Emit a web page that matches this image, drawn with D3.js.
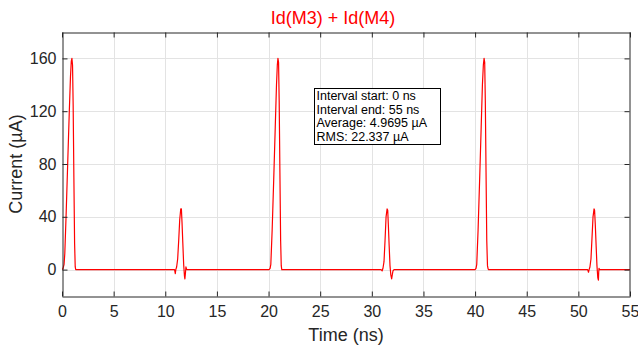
<!DOCTYPE html>
<html>
<head>
<meta charset="utf-8">
<script src="https://cdn.jsdelivr.net/npm/d3@7"></script>
<style>
  html, body { margin: 0; padding: 0; background: #fff; }
  text { font-family: "Liberation Sans", Arial, sans-serif; }
</style>
</head>
<body>
<svg id="chart" width="638" height="347"></svg>
<script>
// time (ns) and current (uA)
const timeNs = [
  0, 0.1, 0.2, 0.27, 0.4, 0.55, 0.7, 0.82, 0.9, 0.96, 1.02, 1.08, 1.15, 1.22, 1.28, 1.33,
  10.9, 10.97, 11.02, 11.1, 11.2, 11.3, 11.4, 11.5, 11.56, 11.62, 11.7, 11.78, 11.86, 11.9, 11.95, 12.0, 12.05, 12.1,
  20.05, 20.15, 20.22, 20.35, 20.5, 20.65, 20.77, 20.85, 20.91, 20.97, 21.03, 21.1, 21.17, 21.23, 21.28,
  30.9, 31.0, 31.08, 31.18, 31.28, 31.38, 31.48, 31.54, 31.6, 31.68, 31.76, 31.84, 31.92, 31.98, 32.05, 32.15, 32.2,
  40.0, 40.09, 40.16, 40.29, 40.44, 40.59, 40.71, 40.8, 40.87, 40.93, 40.99, 41.06, 41.13, 41.2, 41.26, 41.31,
  50.9, 50.98, 51.04, 51.12, 51.22, 51.32, 51.42, 51.52, 51.57, 51.64, 51.72, 51.8, 51.88, 51.94, 51.97, 52.0, 52.05, 52.1,
  55
];
const currentUA = [
  0, 1, 4, 12, 42, 80, 118, 146, 158, 160, 155, 125, 70, 20, 2, 0,
  0, -3, 0, 2, 8, 22, 38, 46, 46, 36, 20, 4, -5, -7, -3, 2, 0.5, 0,
  0, 1, 4, 30, 68, 108, 140, 155, 160, 157, 128, 74, 22, 3, 0,
  0, -1, 1, 6, 22, 40, 46, 45, 34, 18, 3, -4, -7, -4, -1, 0, 0,
  0, 1, 4, 30, 68, 108, 140, 155, 160, 157, 128, 74, 22, 3, 0.5, 0,
  0, -2, 0, 2, 8, 24, 40, 46, 45, 34, 18, 3, -6, -8, -2, 1, 0, 0,
  0
];
const xTicks = [0, 5, 10, 15, 20, 25, 30, 35, 40, 45, 50, 55];
const yTicks = [0, 40, 80, 120, 160];
const infoLines = [
  "Interval start: 0 ns",
  "Interval end: 55 ns",
  "Average: 4.9695 \u00b5A",
  "RMS: 22.337 \u00b5A"
];

const width = 638, height = 347;
const margin = { top: 32, right: 8, bottom: 51, left: 62 };
const axisColor = "#262626";

const svg = d3.select("#chart");

const x = d3.scaleLinear().domain([0, 55]).range([margin.left, width - margin.right]);
const y = d3.scaleLinear().domain([-20, 180]).range([height - margin.bottom, margin.top]);

const x0 = margin.left, x1 = width - margin.right;
const y0 = height - margin.bottom, y1 = margin.top;

// grid
const grid = svg.append("g").attr("stroke", "#e3e3e3").attr("stroke-width", 1);
grid.selectAll(".gx")
  .data(xTicks.slice(1, -1))
  .join("line")
  .attr("x1", d => Math.round(x(d)) + 0.5)
  .attr("x2", d => Math.round(x(d)) + 0.5)
  .attr("y1", y1)
  .attr("y2", y0);
grid.selectAll(".gy")
  .data(yTicks)
  .join("line")
  .attr("y1", d => Math.round(y(d)) + 0.5)
  .attr("y2", d => Math.round(y(d)) + 0.5)
  .attr("x1", x0)
  .attr("x2", x1);

// curve
svg.append("clipPath").attr("id", "plotClip")
  .append("rect")
  .attr("x", x0).attr("y", y1)
  .attr("width", x1 - x0).attr("height", y0 - y1);

const line = d3.line()
  .x((d, i) => x(timeNs[i]))
  .y(d => y(d));

svg.append("path")
  .attr("clip-path", "url(#plotClip)")
  .attr("d", line(currentUA))
  .attr("fill", "none")
  .attr("stroke", "#ff0000")
  .attr("stroke-width", 1.2)
  .attr("stroke-linejoin", "round");

// axes (MATLAB style box with inward ticks)
const tickLen = 5;
const xAxisBottom = svg.append("g")
  .attr("transform", `translate(0, ${Math.round(y0) + 0.5})`)
  .call(d3.axisBottom(x).tickValues(xTicks).tickSizeInner(-tickLen).tickSizeOuter(0).tickPadding(9));
const xAxisTop = svg.append("g")
  .attr("transform", `translate(0, ${Math.round(y1) + 0.5})`)
  .call(d3.axisTop(x).tickValues(xTicks).tickSizeInner(-tickLen).tickSizeOuter(0).tickFormat(""));
const yAxisLeft = svg.append("g")
  .attr("transform", `translate(${Math.round(x0) + 0.5}, 0)`)
  .call(d3.axisLeft(y).tickValues(yTicks).tickSizeInner(-tickLen).tickSizeOuter(0).tickPadding(6));
const yAxisRight = svg.append("g")
  .attr("transform", `translate(${Math.round(x1) - 0.5}, 0)`)
  .call(d3.axisRight(y).tickValues(yTicks).tickSizeInner(-tickLen).tickSizeOuter(0).tickFormat(""));

[xAxisBottom, xAxisTop, yAxisLeft, yAxisRight].forEach(g => {
  g.select(".domain").attr("stroke", axisColor);
  g.selectAll(".tick line").attr("stroke", axisColor);
  g.selectAll(".tick text")
    .attr("fill", axisColor)
    .style("font-size", "16px")
    .style("font-family", "'Liberation Sans', Arial, sans-serif");
});

// labels
svg.append("text")
  .attr("x", 333)
  .attr("y", 24)
  .attr("text-anchor", "middle")
  .attr("fill", "#ff0000")
  .style("font-size", "18px")
  .text("Id(M3) + Id(M4)");

svg.append("text")
  .attr("x", (x0 + x1) / 2)
  .attr("y", 341)
  .attr("text-anchor", "middle")
  .attr("fill", axisColor)
  .style("font-size", "18px")
  .text("Time (ns)");

svg.append("text")
  .attr("transform", `translate(22, ${(y0 + y1) / 2}) rotate(-90)`)
  .attr("text-anchor", "middle")
  .attr("fill", axisColor)
  .style("font-size", "18px")
  .text("Current (\u00b5A)");

// info box
const boxX = Math.round(x(24.4)) + 0.5;
const boxY = Math.round(y(137.5)) + 0.5;
const info = svg.append("g").attr("transform", `translate(${boxX}, ${boxY})`);
info.append("rect")
  .attr("width", 126)
  .attr("height", 56)
  .attr("fill", "#fff")
  .attr("stroke", "#000")
  .attr("stroke-width", 1);
info.selectAll("text")
  .data(infoLines)
  .join("text")
  .attr("x", 2)
  .attr("y", (d, i) => 11.5 + i * 13.5)
  .attr("fill", "#000")
  .style("font-size", "12.5px")
  .text(d => d);
</script>
</body>
</html>
